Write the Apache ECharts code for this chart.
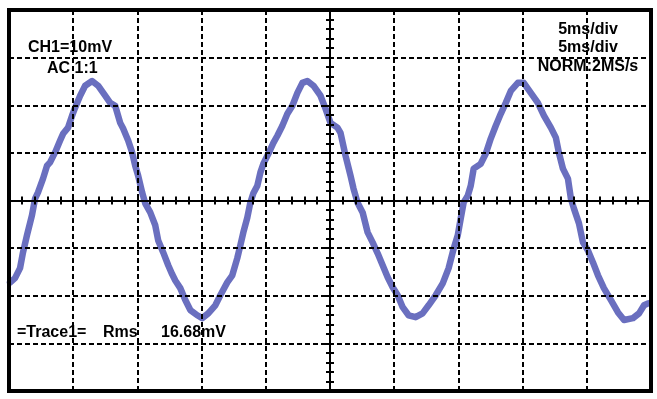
<!DOCTYPE html>
<html>
<head>
<meta charset="utf-8">
<script src="https://cdn.jsdelivr.net/npm/echarts@6/dist/echarts.min.js"></script>
<style>
html,body{margin:0;padding:0;background:#fff;}
#chart{width:657px;height:399px;}
</style>
</head>
<body>
<div id="chart"></div>
<script>
// Time relative to trigger (ms), 5 ms/div
var timeMs = [-24.92,-24.53,-24.14,-23.91,-23.60,-23.21,-22.97,-22.74,-22.35,-22.04,-21.80,-21.41,-21.02,-20.79,-20.40,-20.09,-19.85,-19.46,-19.07,-18.53,-18.06,-17.51,-17.12,-16.73,-16.34,-16.11,-15.72,-15.41,-15.17,-14.94,-14.63,-14.39,-14.00,-13.61,-13.38,-12.99,-12.60,-12.29,-12.05,-11.66,-11.27,-10.88,-10.34,-9.95,-9.48,-8.93,-8.54,-8.00,-7.61,-7.22,-6.98,-6.75,-6.44,-6.20,-5.97,-5.66,-5.42,-5.19,-4.80,-4.41,-4.10,-3.71,-3.32,-2.93,-2.54,-2.15,-1.76,-1.29,-0.74,-0.35,0.04,0.58,0.82,1.21,1.60,1.83,2.14,2.54,2.93,3.32,3.71,4.10,4.49,4.88,5.27,5.66,6.12,6.67,7.21,7.68,8.23,8.78,9.24,9.63,9.95,10.18,10.41,10.73,10.96,11.19,11.74,12.13,12.52,12.91,13.30,13.69,14.08,14.63,15.09,15.64,16.19,16.66,17.20,17.59,17.82,18.14,18.53,18.76,19.00,19.39,19.70,20.09,20.48,20.87,21.33,21.88,22.43,22.90,23.60,24.07,24.46,24.77];
// Channel 1 voltage (mV), 10 mV/div
var voltageMv = [-17.2,-16.3,-14.2,-10.9,-7.3,-3.1,0.4,1.7,4.6,7.3,8.0,10.1,12.6,14.0,15.3,17.8,19.5,22.0,24.1,25.1,24.1,22.0,20.5,19.9,16.3,15.1,12.6,10.1,7.3,5.2,1.7,-0.6,-2.5,-5.2,-8.4,-10.9,-13.6,-15.5,-16.8,-18.4,-20.9,-23.0,-24.1,-24.7,-23.7,-22.0,-19.9,-17.2,-15.7,-12.1,-9.4,-6.7,-3.6,-0.4,1.5,3.1,5.9,7.7,9.8,12.1,13.6,15.7,18.2,19.9,22.6,24.7,25.1,24.1,22.0,19.3,16.3,15.3,14.2,9.4,5.2,2.5,-0.4,-2.5,-6.7,-8.8,-11.1,-13.6,-16.1,-18.2,-19.9,-22.4,-24.1,-24.5,-23.7,-22.0,-19.9,-17.4,-14.2,-10.1,-7.3,-3.8,-0.4,1.0,3.1,6.7,7.7,9.8,13.0,15.7,18.2,20.5,23.0,24.7,24.7,22.6,20.5,17.8,15.3,13.2,10.1,6.7,4.6,0.4,-1.7,-4.8,-8.8,-10.5,-13.0,-15.7,-18.4,-20.9,-23.5,-25.1,-24.7,-23.7,-22.0,-21.6];

var leftLabels = ['CH1=10mV', 'AC 1:1'];
var rightLabels = ['5ms/div', '5ms/div', 'NORM:2MS/s'];
var bottomLabels = ['=Trace1=', 'Rms', '16.68mV'];

var seriesData = timeMs.map(function (t, i) { return [t, voltageMv[i]]; });

var FONT = 'bold 16px "Liberation Sans", Arial, Helvetica, sans-serif';
var dashed = { color: '#000', width: 2, type: [5, 3] };
var centerLine = { show: true, onZero: true, lineStyle: { color: '#000', width: 2 } };
var tick = { show: true, length: 4, lineStyle: { color: '#000', width: 2 } };
var minor = { show: true, splitNumber: 5, length: 4, lineStyle: { color: '#000', width: 2 } };

function xAx(withSplit) {
  return {
    type: 'value', min: -25, max: 25, interval: 5, z: 5,
    axisLine: centerLine, axisTick: tick, minorTick: minor,
    axisLabel: { show: false },
    splitLine: { show: withSplit, lineStyle: dashed }
  };
}
function yAx(withSplit) {
  return {
    type: 'value', min: -40, max: 40, interval: 10, z: 5,
    axisLine: centerLine, axisTick: tick, minorTick: minor,
    axisLabel: { show: false },
    splitLine: { show: withSplit, lineStyle: dashed }
  };
}

var textEls = [];
var lx = [28, 47], ly = [48, 69];
leftLabels.forEach(function (s, i) {
  textEls.push({ type: 'text', z: 10, style: { text: s, x: lx[i], y: ly[i], font: FONT, fill: '#000', textAlign: 'left', verticalAlign: 'middle' } });
});
var ry = [29.5, 48, 66.5];
rightLabels.forEach(function (s, i) {
  textEls.push({ type: 'text', z: 10, style: { text: s, x: 588, y: ry[i], font: FONT, fill: '#000', textAlign: 'center', verticalAlign: 'middle' } });
});
var bx = [17, 103, 161];
bottomLabels.forEach(function (s, i) {
  textEls.push({ type: 'text', z: 10, style: { text: s, x: bx[i], y: 333, font: FONT, fill: '#000', textAlign: 'left', verticalAlign: 'middle' } });
});

var chart = echarts.init(document.getElementById('chart'), null, { renderer: 'canvas' });
chart.setOption({
  animation: false,
  backgroundColor: '#fff',
  grid: { left: 9, top: 10, width: 642, height: 381, show: true, borderColor: '#000', borderWidth: 4, backgroundColor: 'transparent', z: 6 },
  xAxis: [xAx(true), xAx(false)],
  yAxis: [yAx(true), yAx(false)],
  series: [{
    type: 'line', data: seriesData, showSymbol: false, z: 1,
    lineStyle: { color: '#6a6fbf', width: 6.5, join: 'round', cap: 'round' },
    silent: true
  }],
  graphic: textEls
});
</script>
</body>
</html>
